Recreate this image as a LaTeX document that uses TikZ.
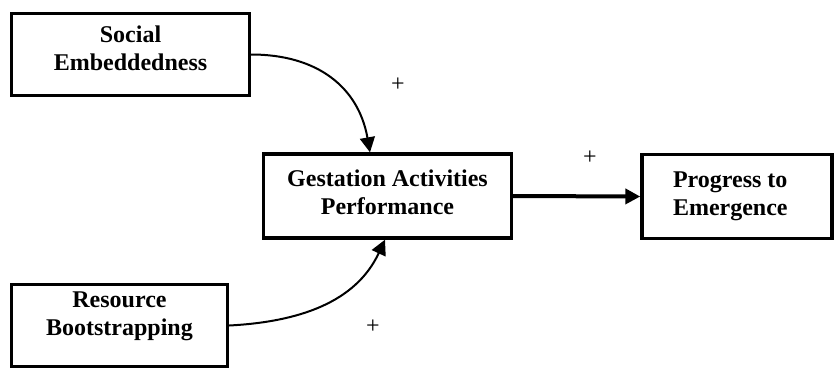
\documentclass[tikz,border=0pt]{standalone}
\usepackage{fontspec}
\setmainfont{Liberation Serif}
\usetikzlibrary{arrows.meta}

\begin{document}
\begin{tikzpicture}[x=0.5pt,y=0.5pt,line cap=round,>={Triangle[length=7.5pt,width=7.5pt]},
  box/.style={draw,line width=1.7pt,align=center,inner sep=0pt,font=\fontsize{12}{14}\selectfont\bfseries},
  sign/.style={font=\fontsize{12}{14}\selectfont}]
\useasboundingbox (0,0) rectangle (836,-370);
\node [box,minimum width=119pt,minimum height=41pt,text depth=6pt] (soc) at (130.5,-54.5) {Social\\Embeddedness};
\node [box,minimum width=124pt,minimum height=42pt,text depth=3.5pt] (gest) at (387.5,-196) {Gestation Activities\\Performance};
\node [box,align=flush left,text width=64pt,inner xsep=15.5pt,minimum height=42pt] (prog) at (737,-196.5) {Progress to\\Emergence};
\node [box,minimum width=108pt,minimum height=41pt,text depth=12pt] (res) at (119.5,-325.5) {Resource\\Bootstrapping};
\draw [line width=1pt,->] (soc.east) to[out=0,in=100,looseness=1.1] ([xshift=-8.75pt]gest.north);
\draw [line width=1pt,->] (res.east) to[out=3,in=-115] ([xshift=-1.25pt]gest.south);
\draw [line width=2pt,->] (gest.east) -- (prog.west);
\node [sign] (p1) at (398,-85) {+};
\node [sign] (p2) at (590,-158) {+};
\node [sign] (p3) at (373,-327) {+};
\end{tikzpicture}
\end{document}
